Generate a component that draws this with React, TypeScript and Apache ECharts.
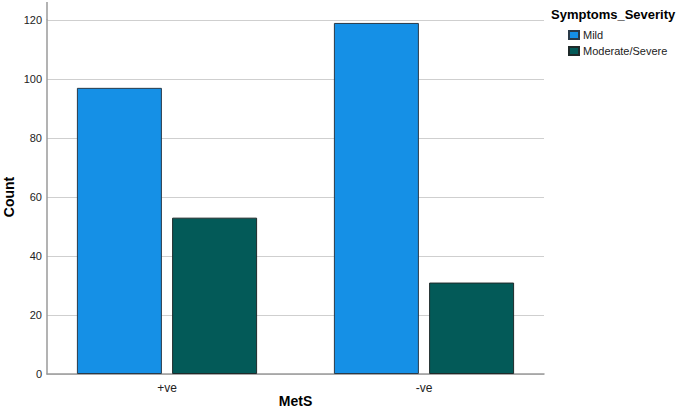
import React, { useEffect, useRef } from "react";
import * as echarts from "echarts";

const categories = ["+ve", "-ve"];
const mildValues = [97, 119];
const moderateValues = [53, 31];
const seriesNames = ["Mild", "Moderate/Severe"];
const legendTitle = "Symptoms_Severity";
const xTitle = "MetS";
const yTitle = "Count";

const FONT = "Arial, 'Liberation Sans', sans-serif";

export default function App() {
  const ref = useRef<HTMLDivElement>(null);
  useEffect(() => {
    if (!ref.current) return;
    const chart = echarts.init(ref.current, undefined, { renderer: "svg" });
    chart.setOption({
      animation: false,
      textStyle: { fontFamily: FONT },
      grid: [
        { left: 47, right: 141, top: 20, bottom: 39, outerBoundsMode: "none", containLabel: false },
        { left: 38.5, width: 514, top: 20, bottom: 39, outerBoundsMode: "none", containLabel: false },
      ],
      xAxis: [
        {
          gridIndex: 0,
          type: "value",
          min: 0,
          max: 1,
          axisLine: { show: true, lineStyle: { color: "#9a9a9a", width: 1.5 } },
          axisTick: { show: false },
          axisLabel: { show: false },
          splitLine: { show: false },
          name: xTitle,
          nameLocation: "middle",
          nameGap: 20,
          nameTextStyle: { fontFamily: FONT, fontSize: 14, fontWeight: "bold", color: "#000" },
        },
        {
          gridIndex: 1,
          type: "category",
          data: categories,
          axisLine: { show: false },
          axisTick: { show: false },
          axisLabel: { fontFamily: FONT, fontSize: 12, color: "#222", margin: 8 },
        },
      ],
      yAxis: [
        {
          gridIndex: 0,
          type: "value",
          min: 0,
          max: 120,
          interval: 20,
          axisLine: { show: true, lineStyle: { color: "#9a9a9a", width: 1.5 } },
          axisTick: { show: false },
          axisLabel: { fontFamily: FONT, fontSize: 11, color: "#222", margin: 5 },
          splitLine: { show: true, lineStyle: { color: "#cfcfcf", width: 1 } },
        },
        {
          gridIndex: 1,
          type: "value",
          min: 0,
          max: 120,
          show: false,
        },
      ],
      legend: {
        orient: "vertical",
        left: 568,
        top: 28,
        padding: 0,
        itemWidth: 10,
        itemHeight: 8,
        itemGap: 2,
        icon: "rect",
        textStyle: { fontFamily: FONT, fontSize: 11, lineHeight: 14, color: "#222", padding: [0, 0, 0, -1] },
        data: seriesNames,
      },
      series: [
        {
          name: seriesNames[0],
          type: "bar",
          xAxisIndex: 1,
          yAxisIndex: 1,
          data: mildValues,
          barWidth: 85,
          barGap: "12%",
          itemStyle: { color: "#1590e6", borderColor: "#2a3a48", borderWidth: 1 },
        },
        {
          name: seriesNames[1],
          type: "bar",
          xAxisIndex: 1,
          yAxisIndex: 1,
          data: moderateValues,
          barWidth: 85,
          barGap: "12%",
          itemStyle: { color: "#035a58", borderColor: "#1f2a2a", borderWidth: 1 },
        },
      ],
      graphic: [
        {
          type: "line",
          shape: { x1: 47, y1: 2, x2: 47, y2: 20 },
          style: { stroke: "#9a9a9a", lineWidth: 1.5 },
        },
        {
          type: "text",
          x: 9,
          y: 197,
          rotation: Math.PI / 2,
          style: {
            text: yTitle,
            fontFamily: FONT,
            fontSize: 14,
            fontWeight: "bold",
            fill: "#000",
            align: "center",
            verticalAlign: "middle",
          },
        },
        {
          type: "text",
          left: 551,
          top: 8,
          style: {
            text: legendTitle,
            fontFamily: FONT,
            fontSize: 13,
            fontWeight: "bold",
            fill: "#000",
          },
        },
      ],
    });
    return () => chart.dispose();
  }, []);
  return <div ref={ref} style={{ width: 685, height: 413, position: "absolute", left: 0, top: 0 }} />;
}
